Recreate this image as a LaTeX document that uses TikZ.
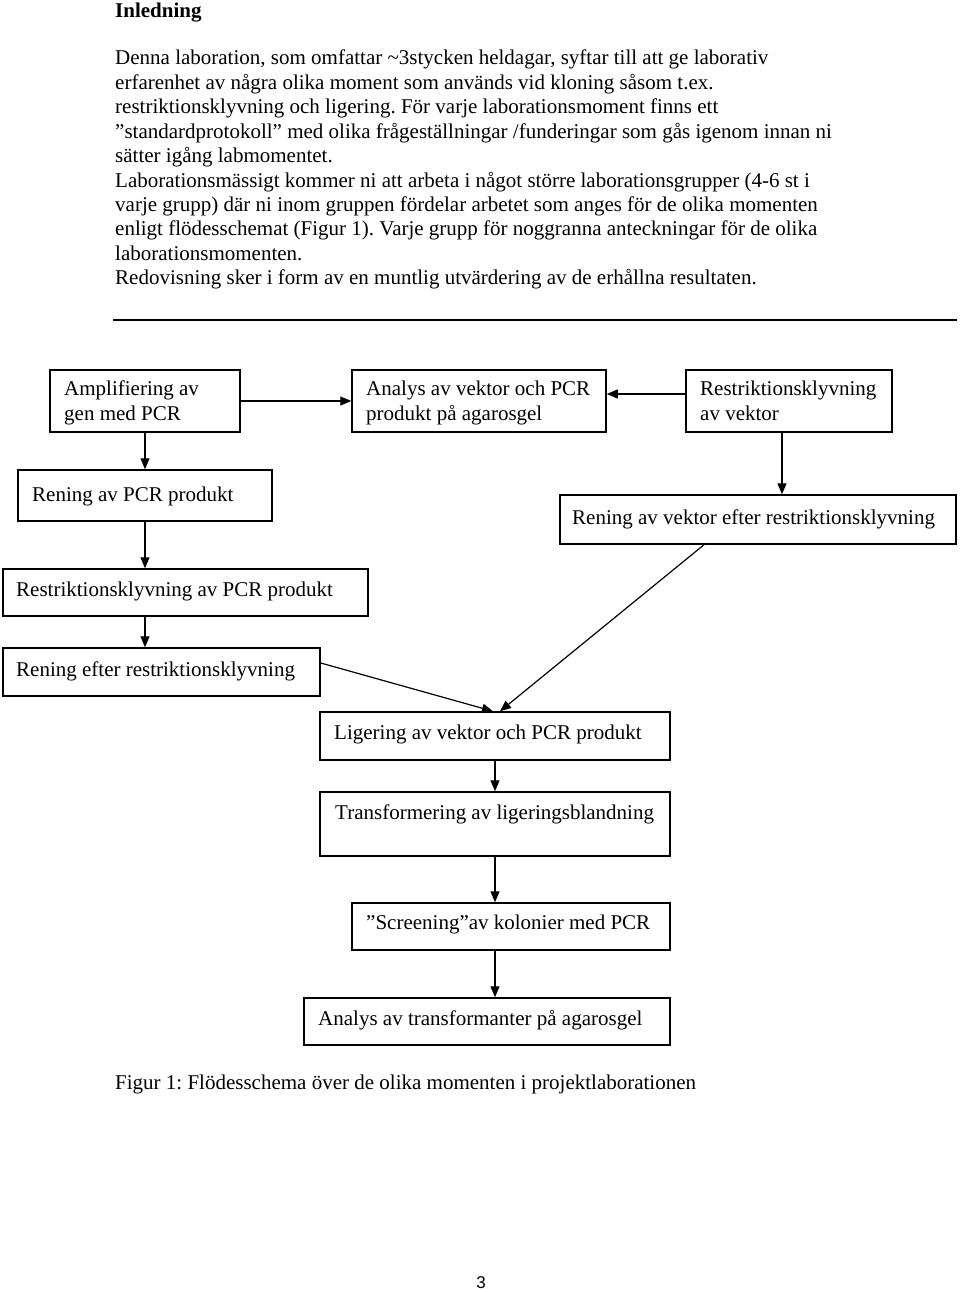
\documentclass[tikz,border=0pt]{standalone}
\usepackage{fontspec}
\setmainfont{Liberation Serif}
\newfontfamily\pagenumfont{Liberation Sans}
\usetikzlibrary{arrows.meta}
\frenchspacing
\tikzset{
  box/.style={draw, line width=1.5pt, rectangle, inner sep=0pt},
  txt/.style={inner sep=0pt, anchor=base west, font=\fontsize{21}{24.4}\selectfont},
  arr/.style={line width=1.2pt, -{Triangle[length=11pt,width=9pt]}},
}
\begin{document}
\begin{tikzpicture}[x=1pt,y=-1pt]
\useasboundingbox (0,0) rectangle (960,1292);
% heading and body text
\node[txt, font=\fontsize{21}{24.4}\selectfont\bfseries] (h) at (115,18) {Inledning};
\node[txt] (l1) at (115,65) {Denna laboration, som omfattar \textasciitilde3stycken heldagar, syftar till att ge laborativ};
\node[txt] (l2) at (115,89.4) {erfarenhet av några olika moment som används vid kloning såsom t.ex.};
\node[txt] (l3) at (115,113.8) {restriktionsklyvning och ligering. För varje laborationsmoment finns ett};
\node[txt] (l4) at (115,138.2) {”standardprotokoll” med olika frågeställningar /funderingar som gås igenom innan ni};
\node[txt] (l5) at (115,162.6) {sätter igång labmomentet.};
\node[txt] (l6) at (115,187) {Laborationsmässigt kommer ni att arbeta i något större laborationsgrupper (4-6 st i};
\node[txt] (l7) at (115,211.4) {varje grupp) där ni inom gruppen fördelar arbetet som anges för de olika momenten};
\node[txt] (l8) at (115,235.8) {enligt flödesschemat (Figur 1). Varje grupp för noggranna anteckningar för de olika};
\node[txt] (l9) at (115,260.2) {laborationsmomenten.};
\node[txt] (l10) at (115,284.6) {Redovisning sker i form av en muntlig utvärdering av de erhållna resultaten.};
% rule
\draw[line width=1.6pt] (113,320) -- (957,320);
% boxes
\node[box, minimum width=190pt, minimum height=62pt] (b1) at (145,401) {};
\node[box, minimum width=254pt, minimum height=62pt] (b2) at (479,401) {};
\node[box, minimum width=206pt, minimum height=62pt] (b3) at (789,401) {};
\node[box, minimum width=254pt, minimum height=51pt] (b4) at (145,495.5) {};
\node[box, minimum width=396pt, minimum height=49pt] (b5) at (758,519.5) {};
\node[box, minimum width=365pt, minimum height=47pt] (b6) at (185.5,592.5) {};
\node[box, minimum width=317pt, minimum height=48pt] (b7) at (161.5,672) {};
\node[box, minimum width=350pt, minimum height=48pt] (b8) at (495,736) {};
\node[box, minimum width=350pt, minimum height=64pt] (b9) at (495,824) {};
\node[box, minimum width=318pt, minimum height=47pt] (b10) at (511,926.5) {};
\node[box, minimum width=366pt, minimum height=47pt] (b11) at (487,1021.5) {};
% box texts
\node[txt] (t1a) at (64,395) {Amplifiering av};
\node[txt] (t1b) at (64,420) {gen med PCR};
\node[txt] (t2a) at (366,395) {Analys av vektor och PCR};
\node[txt] (t2b) at (366,420) {produkt på agarosgel};
\node[txt] (t3a) at (700,395) {Restriktionsklyvning};
\node[txt] (t3b) at (700,420) {av vektor};
\node[txt] (t4) at (32,501) {Rening av PCR produkt};
\node[txt] (t5) at (572,524) {Rening av vektor efter restriktionsklyvning};
\node[txt] (t6) at (16,596) {Restriktionsklyvning av PCR produkt};
\node[txt] (t7) at (16,676) {Rening efter restriktionsklyvning};
\node[txt] (t8) at (334,739) {Ligering av vektor och PCR produkt};
\node[txt] (t9) at (335,819) {Transformering av ligeringsblandning};
\node[txt] (t10) at (366,929) {”Screening”av kolonier med PCR};
\node[txt] (t11) at (318,1025) {Analys av transformanter på agarosgel};
% arrows
\draw[arr] (b1.east) -- (b2.west);
\draw[arr] ([yshift=7pt]b3.west) -- ([yshift=7pt]b2.east);
\draw[arr] (b1.south) -- (b4.north);
\draw[arr] ([xshift=-7pt]b3.south) -- ([xshift=-7pt]b3.south |- b5.north);
\draw[arr] (b4.south) -- (b4.south |- b6.north);
\draw[arr] (b6.south -| b4.south) -- (b7.north -| b4.south);
\draw[arr] ([yshift=9pt]b7.east) -- ([xshift=-2pt]b8.north);
\draw[arr] ([xshift=-54pt]b5.south) -- ([xshift=5pt]b8.north);
\draw[arr] (b8.south) -- (b9.north);
\draw[arr] (b9.south) -- (b9.south |- b10.north);
\draw[arr] (b10.south -| b9.south) -- (b11.north -| b9.south);
% caption and page number
\node[txt] (cap) at (115,1089) {Figur 1: Flödesschema över de olika momenten i projektlaborationen};
\node[inner sep=0pt, anchor=base, font=\pagenumfont\fontsize{17}{20}\selectfont] (pg) at (481,1288) {3};
\end{tikzpicture}
\end{document}
